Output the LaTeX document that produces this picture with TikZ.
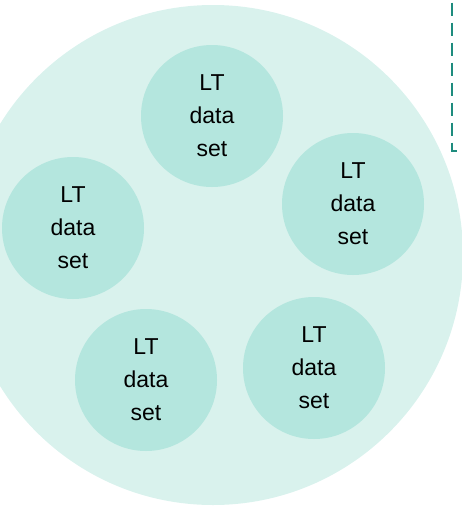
\documentclass[tikz,border=0pt]{standalone}
\usepackage{fontspec}
\setmainfont{Liberation Sans}
\usepackage{tikz}
\usetikzlibrary{positioning}
\definecolor{poolfill}{HTML}{D9F2ED}
\definecolor{setfill}{HTML}{B4E6DE}
\definecolor{edge}{HTML}{1E8C7E}
\tikzset{
  pool/.style={circle,fill=poolfill,minimum size=500pt,inner sep=0pt},
  ds/.style={circle,fill=setfill,minimum size=142pt,inner sep=0pt,
    align=center,font=\fontsize{23}{33}\selectfont},
  frame/.style={draw=edge,line width=2.2pt,dash pattern=on 13pt off 7pt,
    dash phase=15.3pt},
}

\begin{document}
\begin{tikzpicture}[x=1pt,y=-1pt]
  \useasboundingbox (0,0) rectangle (462,506);
  \node[pool] (pool) at (213,255) {};
  \node[ds] (ds1) at (212,116) {LT\\data\\set};
  \node[ds] (ds2) at (353,204) {LT\\data\\set};
  \node[ds] (ds3) at (73,228) {LT\\data\\set};
  \node[ds] (ds4) at (314,368) {LT\\data\\set};
  \node[ds] (ds5) at (146,380) {LT\\data\\set};
  % dashed frame corner
  \coordinate (ftop) at (451.7,-2);
  \coordinate (fcorner) at (451.7,150.7);
  \coordinate (fend) at (464,150.7);
  \draw[frame] (ftop) -- (fcorner) -- (fend);
\end{tikzpicture}
\end{document}
